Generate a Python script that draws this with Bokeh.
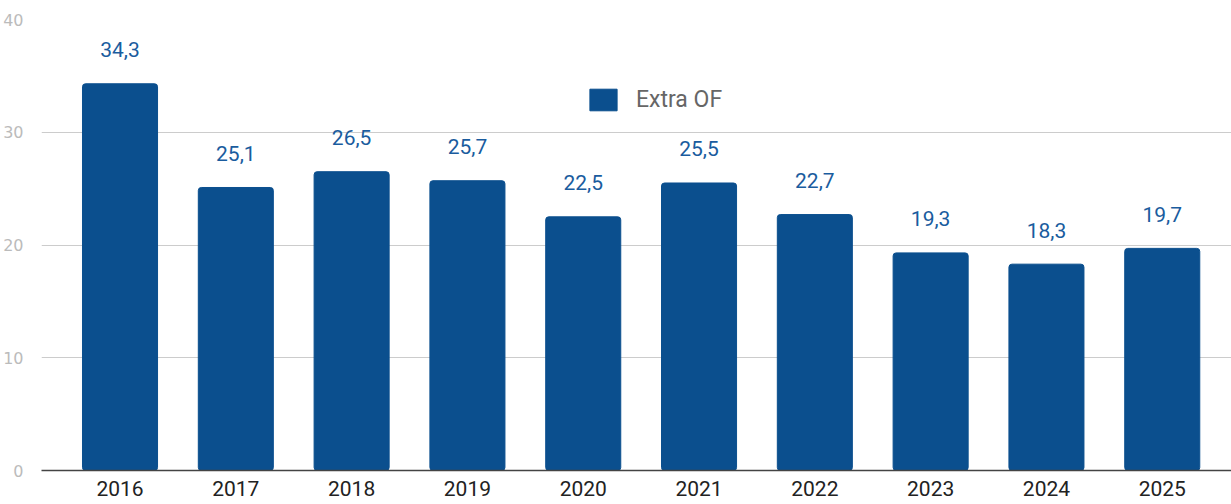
from bokeh.plotting import figure
from bokeh.models import ColumnDataSource, FixedTicker, Legend, LegendItem, Range1d
from bokeh.embed import file_html
from bokeh.resources import INLINE
from bokeh.core.properties import value

years = ["2016", "2017", "2018", "2019", "2020", "2021", "2022", "2023", "2024", "2025"]
extra_of = [34.3, 25.1, 26.5, 25.7, 22.5, 25.5, 22.7, 19.3, 18.3, 19.7]
y_ticks = [0, 10, 20, 30, 40]
series_name = "Extra OF"

BAR = "#0b4f8e"
LABEL = "#1a5c9e"
FONT = "Roboto"

xs = list(range(len(years)))
labels = [f"{v:.1f}".replace(".", ",") for v in extra_of]
src = ColumnDataSource(dict(x=xs, y=extra_of, lab=labels))

p = figure(width=1231, height=504, output_backend="svg", toolbar_location=None,
           x_range=Range1d(-0.678, 9.598), y_range=Range1d(0, 40),
           min_border_left=41, min_border_right=0, min_border_top=19, min_border_bottom=34)
p.outline_line_color = None
p.background_fill_color = "white"
p.border_fill_color = "white"

r = p.vbar(x="x", top="y", width=0.648, source=src, color=BAR, border_radius=3)
p.text(x="x", y="y", text="lab", source=src, text_align="center", text_baseline="alphabetic",
       y_offset=-34, text_color=LABEL, text_font=value(FONT), text_font_size="21px")

p.xaxis.ticker = FixedTicker(ticks=xs)
p.xaxis.major_label_overrides = {i: y for i, y in enumerate(years)}
p.xaxis.major_label_text_font = FONT
p.xaxis.major_label_text_font_size = "21px"
p.xaxis.major_label_text_color = "#222222"
p.xaxis.major_tick_line_color = None
p.xaxis.minor_tick_line_color = None
p.xaxis.axis_line_color = "#444444"
p.xaxis.axis_line_width = 1.5
p.xaxis.major_label_standoff = 4

p.yaxis.ticker = FixedTicker(ticks=y_ticks)
p.yaxis.major_label_text_font = "DejaVu Sans"
p.yaxis.major_label_text_font_size = "16px"
p.yaxis.major_label_text_color = "#bbbbbb"
p.yaxis.major_tick_line_color = None
p.yaxis.minor_tick_line_color = None
p.yaxis.axis_line_color = None
p.yaxis.major_label_standoff = 12

p.xgrid.grid_line_color = None
p.ygrid.grid_line_color = "#cccccc"
p.ygrid.grid_line_width = 1.2

legend = Legend(items=[LegendItem(label=series_name, renderers=[r])],
                location=(545, 357), padding=0, margin=0, border_line_color=None,
                background_fill_alpha=0, glyph_width=34, glyph_height=27,
                label_standoff=16, label_text_font=FONT, label_text_font_size="23px",
                label_text_color="#666666")
p.add_layout(legend, "center")

html = file_html(p, INLINE)
html = html.replace("<body>", "<body style=\"margin:0;overflow:hidden\">", 1)
open("out.html", "w").write(html)
